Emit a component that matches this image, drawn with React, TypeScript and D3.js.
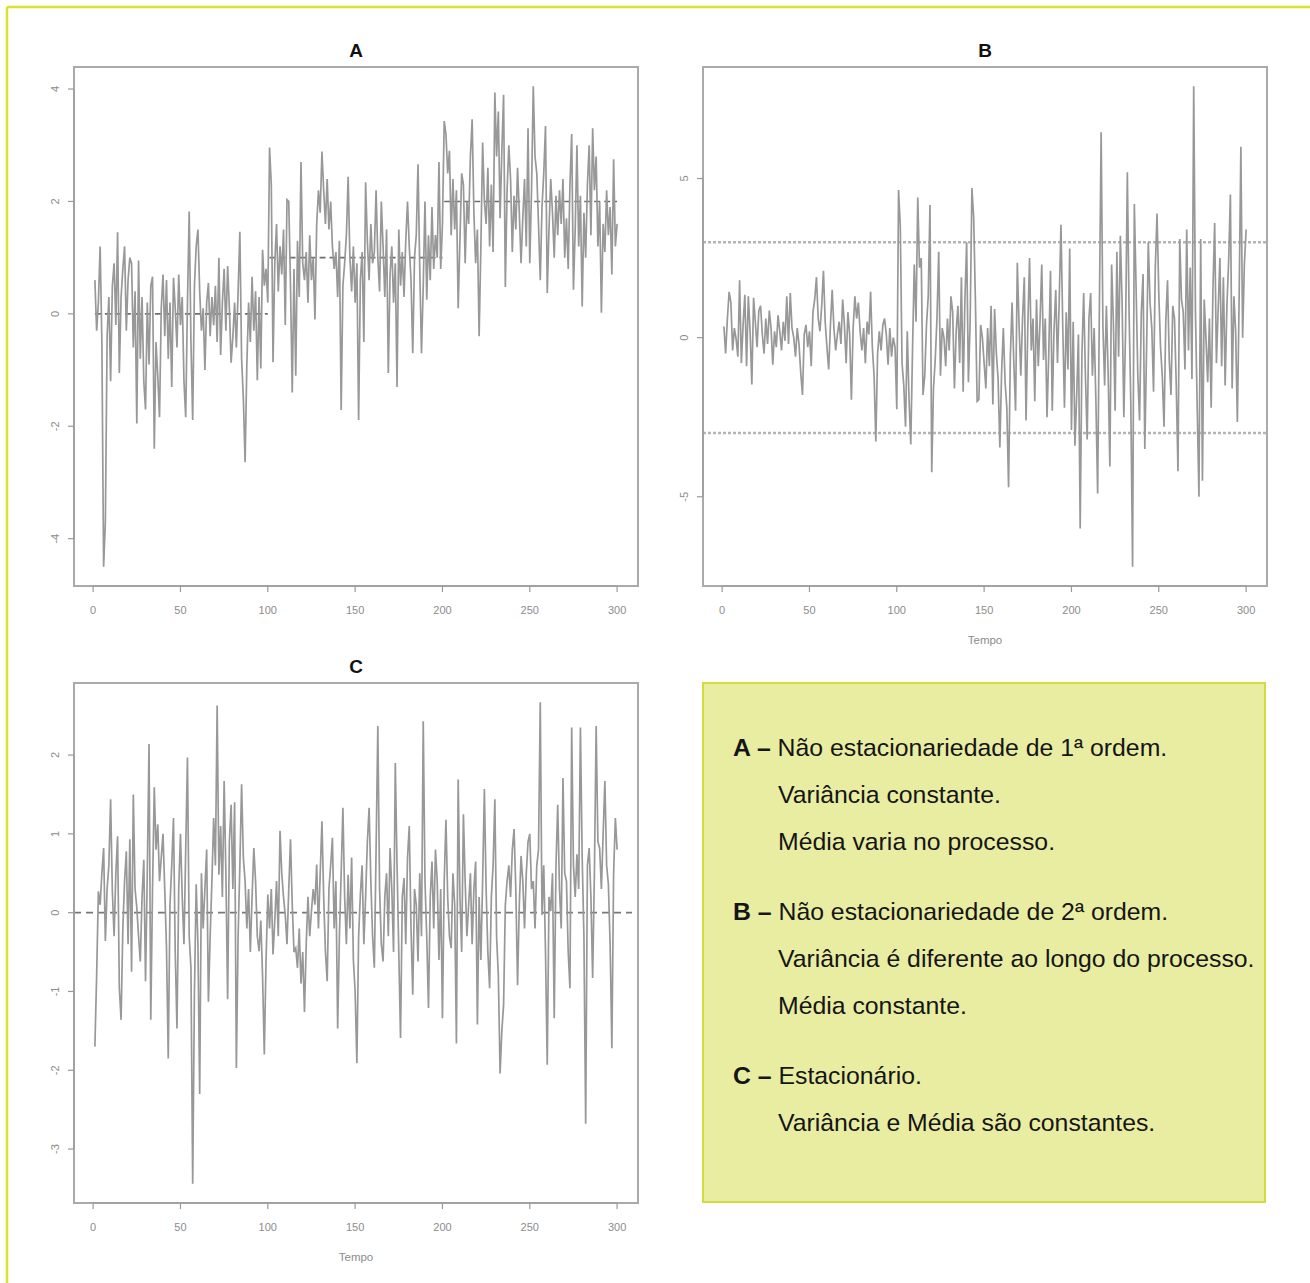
import React from 'react';
import * as d3 from 'd3';

// ---------- data ----------
const seriesA = [
  0.6, -0.3, 0.2, 1.2, -0.5, -4.5, -3.7, -0.4, 0.3, -1.2,
  0.5, 0.9, -0.2, 1.45, -1.05, 0.3, 0.8, 1.2, -0.3, 0.6,
  1.0, 0.9, -0.6, 0.4, -1.95, 0.95, -0.8, 0.3, -1.2, -1.7,
  0.2, -0.9, 0.5, 0.66, -2.4, -0.5, -1.1, -1.84, 0.1, 0.7,
  -0.4, 0.6, -0.8, 0.2, -1.3, 0.64, 0.1, -0.6, 0.7, -0.2,
  0.3, -1.2, -1.84, 0.2, 1.82, -0.5, -1.89, 0.5, 1.2, 1.5,
  0.4, -0.3, 0.1, -1.0, 0.2, 0.55, -0.4, 0.3, -0.2, 0.5,
  -0.5, 1.0, -0.73, 0.2, 0.8, -0.3, 0.85, 0.1, -0.87, -0.4,
  0.2, -0.6, 0.4, 1.46, -0.8, -1.5, -2.64, -0.9, 0.2, -0.5,
  0.66, -0.3, 0.4, -1.18, 0.3, -0.97, 1.14, 0.5, 0.8, 0.2,
  2.96, 2.3, -0.86, 0.9, 1.6, 0.4, 1.2, 0.7, 1.5, -0.2,
  2.03, 2.0, 0.5, -1.4, 0.8, -1.1, 1.3, 0.3, 2.7, 0.9,
  0.6, 1.1, 0.2, 1.4, 0.6, 1.0, -0.1, 1.6, 2.2, 1.8,
  2.89, 2.2, 1.6, 2.4, 1.5, 2.0, 1.2, 0.8, 1.1, 0.3,
  1.3, -1.71, 0.5, 0.9, 1.4, 2.44, 1.0, 0.4, 1.2, 0.2,
  0.9, -1.89, 0.6, 1.1, -0.5, 2.34, 1.3, 0.6, 1.6, 0.9,
  1.1, 2.2, 1.0, 0.4, 2.0, 1.2, 0.3, 1.5, -1.05, 0.7,
  1.2, 0.2, 0.9, -1.3, 1.5, 0.5, 1.1, 0.3, 1.3, 2.0,
  1.2, 0.6, -0.7, 1.0, 1.4, 2.66, 0.8, -0.7, 0.5, 2.0,
  0.25, 1.4, 0.6, 1.9, 0.8, 1.4, 1.0, 2.7, 0.8, 1.6,
  3.43, 3.2, 2.5, 2.9, 1.4, 2.4, 1.5, 2.2, 0.1, 1.3,
  2.5, 2.3, 0.9, 2.0, 1.6, 2.8, 3.46, 1.8, 0.9, 1.5,
  -0.4, 1.2, 3.05, 2.0, 1.6, 2.6, 1.2, 2.3, 1.1, 3.94,
  2.8, 3.6, 1.7, 2.9, 3.9, 0.48, 2.2, 3.0, 2.4, 1.1,
  2.1, 1.5, 2.6, 1.8, 0.9, 1.7, 2.4, 1.2, 3.3, 0.9,
  2.2, 4.05, 2.8, 2.5, 1.6, 0.6, 1.9, 2.5, 3.34, 0.37,
  1.5, 2.4, 1.8, 1.0, 2.1, 1.4, 2.2, 1.6, 2.4, 1.0,
  1.7, 0.8, 2.3, 3.2, 0.43, 1.5, 3.0, 1.2, 2.1, 0.13,
  1.8, 1.0, 2.3, 3.0, 1.4, 3.3, 2.2, 2.8, 1.2, 2.0,
  0.02, 1.6, 1.1, 2.2, 1.4, 1.9, 0.7, 2.75, 1.2, 1.6,
];

const seriesB = [
  0.35, -0.5, 0.6, 1.44, 1.1, -0.4, 0.3, -0.05, -0.6, 1.8,
  -0.8, 0.4, 1.35, -0.9, 1.3, 0.2, -1.47, 1.25, 0.5, -0.3,
  0.85, 1.0, 0.1, -0.5, 0.6, -0.2, 0.85, 0.3, -0.85, 0.2,
  -0.3, 0.7, 0.2, -0.4, 0.5, -0.1, 1.3, -0.2, 1.4, 0.3,
  0.0, -0.6, 0.3, -0.2, -1.1, -1.8, 0.1, 0.4, -0.3, 0.2,
  -0.9, 0.8, 1.2, 1.9, 0.6, 0.2, 1.0, 2.1, 0.5, -0.3,
  -1.0, 0.4, 1.5, 0.3, -0.4, 0.1, 0.5, -0.2, 1.2, 0.4,
  -0.8, 0.8, 0.1, -1.95, 0.3, 1.3, 0.6, 1.1, 0.2, -0.4,
  0.3, -0.8, 0.5, 0.1, 1.44, -0.3, -1.2, -3.26, -0.5, 0.2,
  -0.4, 0.4, 0.6, 0.1, -0.85, 0.3, -0.6, 0.0, -0.3, -2.25,
  4.64, 3.5, -0.8, -1.5, -2.8, 0.2, -1.9, -3.36, -0.4, 2.3,
  0.5, 4.4, 2.2, 2.5, -1.8, -1.2, 0.4, 1.3, 4.17, -4.23,
  -1.6, -0.7, 0.6, 2.7, -1.2, 0.3, 0.0, -0.9, 0.6, -0.4,
  1.3, 0.8, -1.6, 0.2, 1.0, -0.8, 1.9, -1.7, 1.2, 3.0,
  -1.4, 0.5, 4.7, 3.8, 1.2, -2.0, -1.95, 0.4, 0.0, -0.8,
  -1.6, 0.3, -0.9, 1.0, -2.1, 0.9, -0.5, -1.3, -3.45, -1.1,
  0.3, -1.4, -2.2, -4.7, -0.6, 1.1, -0.8, -2.3, 2.35, 0.4,
  -1.2, 0.6, 1.9, -2.6, 0.3, 2.5, -0.4, 0.6, -2.0, 1.2,
  -0.9, 0.5, 2.3, -0.7, 0.6, -2.5, -0.5, 2.1, -2.3, 0.2,
  1.5, -0.8, 1.2, 3.55, 0.4, -2.2, 0.8, -1.0, 2.8, -2.9,
  0.5, -3.4, -1.8, 0.1, -6.0, -0.5, 1.4, -1.2, -3.2, 0.6,
  1.4, -1.2, 0.3, -2.0, -4.9, 1.0, 6.45, 0.4, -1.5, 1.0,
  -1.1, -4.05, 2.3, 0.5, -2.3, 2.7, -0.6, 3.2, 1.1, -2.5,
  0.3, 5.2, 0.8, -2.1, -7.2, 4.2, 1.6, -1.2, -2.6, 0.8,
  2.0, -3.5, -0.4, 3.0, 1.1, 0.3, -1.7, 2.2, 3.9, 1.4,
  -0.3, -1.2, -2.8, 0.5, 1.8, -0.7, -1.8, 1.0, 0.6, -1.5,
  -4.2, 3.1, 1.2, 0.8, -1.0, 3.4, -0.4, 2.2, -1.3, 7.9,
  0.8, -2.2, -5.0, 3.1, -4.5, 1.2, 0.0, -1.4, 0.6, -2.2,
  1.5, 3.6, -0.8, 0.9, 2.5, -0.9, 1.9, -1.5, 1.0, 2.4,
  4.5, -1.6, 1.3, 0.2, -2.65, 1.2, 6.0, 0.0, 2.3, 3.4,
];

const seriesC = [
  -1.7, -0.8, 0.27, 0.1, 0.5, 0.82, -0.36, 0.3, 0.6, 1.44,
  0.27, -0.3, 0.5, 0.97, -0.96, -1.36, -0.2, 0.4, 0.78, -0.4,
  0.93, -0.75, 1.5, 0.3, 0.06, -0.3, -0.62, 0.2, 0.67, -0.87,
  0.5, 2.14, -1.36, 0.3, 1.59, 0.8, 1.12, 0.4, 0.7, 1.0,
  0.3, -0.45, -1.85, 0.1, 0.6, 1.2, -0.5, -1.47, 0.3, 1.0,
  0.2, -0.4, 0.8, 1.97, -0.3, -0.7, -3.44, -1.0, 0.36, -0.4,
  -2.3, 0.5, -0.2, 0.31, 0.8, -1.13, -0.3, 0.4, 1.2, 0.6,
  2.63, 0.48, 1.1, 0.2, 1.67, 0.5, -1.1, 0.9, 1.37, 0.3,
  1.4, -1.97, -0.3, 0.6, 1.63, 0.7, 0.4, -0.2, 0.3, -0.5,
  0.2, 0.82, 0.4, -0.3, -0.49, -0.1, -0.8, -1.8, -0.6, 0.23,
  -0.2, 0.3, -0.53, -0.1, 0.4, -0.3, 1.04, 0.5, 0.2, -0.03,
  -0.4, 0.3, 0.93, 0.1, -0.5, -0.45, -0.7, -0.2, -0.9, -0.5,
  -1.26, -0.4, 0.2, -0.3, 0.02, 0.3, 0.1, 0.61, -0.2, 0.5,
  1.16, 0.2, -0.5, -0.87, 0.3, 0.6, 0.95, -0.2, 0.4, -1.47,
  -0.3, 0.5, 1.33, 0.2, -0.4, 0.48, -0.2, 0.7, -0.6, -1.0,
  -1.91, -0.3, 0.23, 0.6, -0.4, 0.2, 0.9, 1.33, 0.4, -0.3,
  -0.7, 0.8, 2.37, 0.3, -0.4, -0.62, 0.2, 0.5, -0.3, 0.82,
  0.3, -0.5, 1.9, 0.6, -0.5, -1.59, 0.2, 0.44, -0.4, 0.7,
  1.1, -0.2, -1.04, 0.3, 0.1, -0.62, 0.5, -0.3, 2.43, 0.4,
  -0.3, -1.21, 0.2, 0.65, -0.2, 0.8, 0.4, -0.6, 0.3, -1.34,
  0.4, 1.18, 0.2, -0.3, -0.45, 0.5, 0.1, -1.66, 1.69, 0.2,
  -0.5, 1.25, 0.4, -0.3, 0.1, 0.5, -0.4, 0.3, 0.65, -1.42,
  0.2, -0.6, 0.4, 1.57, 0.3, -0.5, -0.96, 0.2, 0.6, 1.44,
  -0.3, -0.8, -2.04, -1.5, -1.17, 0.1, 0.4, 0.6, 0.2, 0.8,
  1.06, 0.3, -0.92, 0.1, 0.72, 0.4, -0.2, 0.5, 0.9, 1.0,
  0.3, 0.4, -0.2, 0.6, 0.8, 2.67, -0.03, 0.6, -0.5, -1.93,
  0.2, 0.02, 0.5, -1.34, 0.6, 1.37, 0.3, -0.2, 1.71, 0.5,
  0.4, -0.5, -0.96, 2.35, 0.6, 0.2, 0.74, 0.3, 2.35, 0.7,
  -0.3, -2.68, 0.6, 0.82, 0.2, -0.83, 0.5, 2.37, 0.9, 0.82,
  0.3, 1.0, 1.67, 0.6, 0.36, -0.4, -1.72, 0.5, 1.2, 0.8,
];

const xTicks = [0, 50, 100, 150, 200, 250, 300];
const yTicksA = [-4, -2, 0, 2, 4];
const yTicksB = [-5, 0, 5];
const yTicksC = [-3, -2, -1, 0, 1, 2];
const meanSegmentsA = [
  { from: 1, to: 100, value: 0 },
  { from: 101, to: 200, value: 1 },
  { from: 201, to: 300, value: 2 },
];
const bandLinesB = [-3, 3];
const meanLineC = [0];
const xAxisLabel = 'Tempo';

const noteBlocks = [
  { head: 'A –', lines: ['Não estacionariedade de 1ª ordem.', 'Variância constante.', 'Média varia no processo.'] },
  { head: 'B –', lines: ['Não estacionariedade de 2ª ordem.', 'Variância é diferente ao longo do processo.', 'Média constante.'] },
  { head: 'C –', lines: ['Estacionário.', 'Variância e Média são constantes.'] },
];

const FONT = "'Liberation Sans', Arial, Helvetica, sans-serif";

type PanelProps = {
  left: number;
  top: number;
  width: number;
  height: number;
  data: number[];
  yTicks: number[];
  title?: string;
  xLabel?: string;
  children?: (x: d3.ScaleLinear<number, number>, y: d3.ScaleLinear<number, number>) => React.ReactNode;
};

function Panel({ left, top, width, height, data, yTicks, title, xLabel, children }: PanelProps) {
  const n = data.length;
  const xPad = (n - 1) * 0.04;
  const x = d3.scaleLinear().domain([1 - xPad, n + xPad]).range([left, left + width]);
  const [mn, mx] = d3.extent(data) as [number, number];
  const yPad = (mx - mn) * 0.04;
  const y = d3.scaleLinear().domain([mn - yPad, mx + yPad]).range([top + height, top]);
  const line = d3
    .line<number>()
    .x((_, i) => x(i + 1))
    .y((d) => y(d));
  const bottom = top + height;
  const tickColor = '#9a9a9a';
  const labelColor = '#8c8c8c';
  return (
    <g>
      {title && (
        <text x={left + width / 2} y={top - 10} textAnchor="middle" fontFamily={FONT} fontWeight="bold" fontSize={19} fill="#111">
          {title}
        </text>
      )}
      <clipPath id={`clip-${left}-${top}`}>
        <rect x={left} y={top} width={width} height={height} />
      </clipPath>
      {children && <g clipPath={`url(#clip-${left}-${top})`}>{children(x, y)}</g>}
      <path d={line(data) || ''} fill="none" stroke="#989898" strokeWidth={1.7} strokeLinejoin="miter" />
      <rect x={left} y={top} width={width} height={height} fill="none" stroke="#aaaaaa" strokeWidth={2} />
      {/* x axis */}
      <line x1={x(xTicks[0])} x2={x(xTicks[xTicks.length - 1])} y1={bottom} y2={bottom} stroke={tickColor} strokeWidth={1.2} />
      {xTicks.map((t) => (
        <g key={`xt${t}`}>
          <line x1={x(t)} x2={x(t)} y1={bottom} y2={bottom + 6} stroke={tickColor} strokeWidth={1.2} />
          <text x={x(t)} y={bottom + 28} textAnchor="middle" fontFamily={FONT} fontSize={11} fill={labelColor}>
            {t}
          </text>
        </g>
      ))}
      {/* y axis */}
      <line x1={left} x2={left} y1={y(yTicks[0])} y2={y(yTicks[yTicks.length - 1])} stroke={tickColor} strokeWidth={1.2} />
      {yTicks.map((t) => (
        <g key={`yt${t}`}>
          <line x1={left - 6} x2={left} y1={y(t)} y2={y(t)} stroke={tickColor} strokeWidth={1.2} />
          <text
            transform={`translate(${left - 15},${y(t)}) rotate(-90)`}
            textAnchor="middle"
            fontFamily={FONT}
            fontSize={11}
            fill={labelColor}
          >
            {t}
          </text>
        </g>
      ))}
      {xLabel && (
        <text x={left + width / 2} y={bottom + 58} textAnchor="middle" fontFamily={FONT} fontSize={11.5} fill={labelColor}>
          {xLabel}
        </text>
      )}
    </g>
  );
}

export default function App() {
  const W = 1310;
  const H = 1283;
  const box = { x: 703, y: 683, w: 562, h: 519 };
  const noteRows: { head?: string; text: string; y: number }[] = [];
  let yPos = 756;
  noteBlocks.forEach((b) => {
    b.lines.forEach((l, li) => {
      noteRows.push({ head: li === 0 ? b.head : undefined, text: l, y: yPos });
      yPos += 47;
    });
    yPos += 23;
  });

  return (
    <svg width={W} height={H} style={{ position: 'absolute', left: 0, top: 0, background: '#fff' }}>
      <rect x={0} y={0} width={W} height={H} fill="#ffffff" />
      {/* outer frame */}
      <line x1={7} y1={7} x2={W} y2={7} stroke="#d9e22c" strokeWidth={2.5} />
      <line x1={7} y1={7} x2={7} y2={H} stroke="#d9e22c" strokeWidth={2.5} />

      <Panel left={74} top={67} width={564} height={519} data={seriesA} yTicks={yTicksA} title="A">
        {(x, y) =>
          meanSegmentsA.map((s, i) => (
            <line key={i} x1={x(s.from)} x2={x(s.to)} y1={y(s.value)} y2={y(s.value)} stroke="#6e6e6e" strokeWidth={1.6} strokeDasharray="6,4" />
          ))
        }
      </Panel>

      <Panel left={703} top={67} width={564} height={519} data={seriesB} yTicks={yTicksB} title="B" xLabel={xAxisLabel}>
        {(x, y) =>
          bandLinesB.map((v, i) => (
            <line key={i} x1={703} x2={1267} y1={y(v)} y2={y(v)} stroke="#b4b4b4" strokeWidth={2.5} strokeDasharray="3,2" />
          ))
        }
      </Panel>

      <Panel left={74} top={683} width={564} height={520} data={seriesC} yTicks={yTicksC} title="C" xLabel={xAxisLabel}>
        {(x, y) =>
          meanLineC.map((v, i) => (
            <line key={i} x1={74} x2={632} y1={y(v)} y2={y(v)} stroke="#777777" strokeWidth={1.6} strokeDasharray="7,5" />
          ))
        }
      </Panel>

      {/* note box */}
      <rect x={box.x} y={box.y} width={box.w} height={box.h} fill="#e9eda2" stroke="#d3dc3a" strokeWidth={2} />
      {noteRows.map((r, i) =>
        r.head ? (
          <text key={i} x={733} y={r.y} fontFamily={FONT} fontSize={24.8} fill="#151515">
            <tspan fontWeight="bold">{r.head}</tspan>
            <tspan> {r.text}</tspan>
          </text>
        ) : (
          <text key={i} x={778} y={r.y} fontFamily={FONT} fontSize={24.8} fill="#151515">
            {r.text}
          </text>
        )
      )}
    </svg>
  );
}
